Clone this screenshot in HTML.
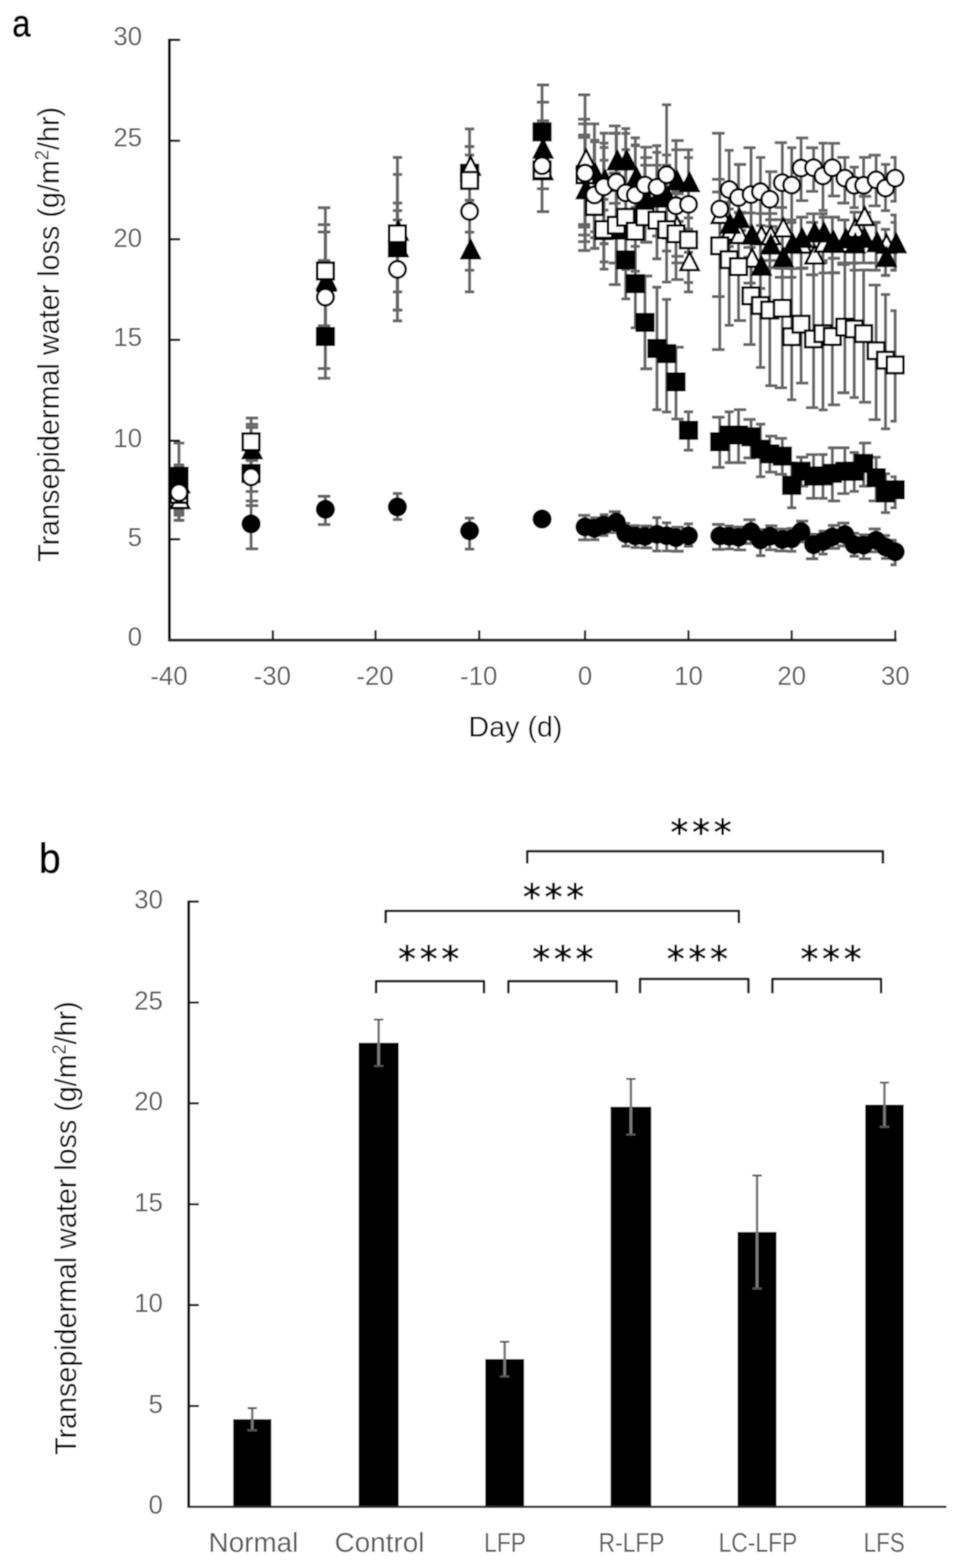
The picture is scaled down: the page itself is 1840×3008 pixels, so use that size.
<!DOCTYPE html>
<html lang="en">
<head>
<meta charset="utf-8">
<title>Transepidermal water loss</title>
<style>
html,body{margin:0;padding:0;background:#fff}
body{width:1840px;height:3008px;overflow:hidden}
svg{display:block}
</style>
</head>
<body>
<svg width="1840" height="3008" viewBox="0 0 1840 3008" role="img" aria-label="Transepidermal water loss figure, panels a and b">
<defs><filter id="soft" x="0" y="0" width="1840" height="3008" filterUnits="userSpaceOnUse"><feGaussianBlur stdDeviation="0.8"/></filter></defs>
<rect width="1840" height="3008" fill="#fff"/>
<g filter="url(#soft)">
<rect width="1840" height="3008" fill="#fff"/>
<g id="panel-a">
<g font-family="'Liberation Sans', sans-serif" font-size="49.5" fill="#5a5a5a" text-anchor="end">
<text x="272.5" y="1238.6">0</text>
<text x="272.5" y="1048">5</text>
<text x="272.5" y="857.6">10</text>
<text x="272.5" y="663.6">15</text>
<text x="272.5" y="474.2">20</text>
<text x="272.5" y="280.6">25</text>
<text x="272.5" y="87.2">30</text>
</g>
<g font-family="'Liberation Sans', sans-serif" font-size="49.5" fill="#5a5a5a" text-anchor="middle">
<text x="324.3" y="1314">-40</text>
<text x="522.5" y="1314">-30</text>
<text x="719.5" y="1314">-20</text>
<text x="918.5" y="1314">-10</text>
<text x="1122.5" y="1314">0</text>
<text x="1321" y="1314">10</text>
<text x="1519" y="1314">20</text>
<text x="1717.8" y="1314">30</text>
</g>
<text transform="translate(113 1078) rotate(-90)" font-family="'Liberation Sans', sans-serif" font-size="57" fill="#000" textLength="873" lengthAdjust="spacingAndGlyphs">Transepidermal water loss (g/m<tspan font-size="36" dy="-20">2</tspan><tspan dy="20">/hr)</tspan></text>
<text x="989" y="1413" font-family="'Liberation Sans', sans-serif" font-size="55" fill="#000" text-anchor="middle">Day (d)</text>
<text x="23.4" y="70.2" font-family="'Liberation Sans', sans-serif" font-size="74" fill="#000" stroke="#000" stroke-width="1.6" textLength="35" lengthAdjust="spacingAndGlyphs">a</text>
<g id="errs" stroke="#686868" stroke-width="5.8" fill="none">
<path d="M343.4 918V982M333 918H353.7M333 982H353.7"/>
<path d="M481.7 960.9V1052.9M471.5 960.9H495.4M471.5 1052.9H495.4"/>
<path d="M624.3 952V1006.4M609.8 952H633.8M609.8 1006.4H633.8"/>
<path d="M762.5 946.6V996.7M753.7 946.6H771.7M753.7 996.7H771.7"/>
<path d="M901 993.9V1053.3M891.8 993.9H910M891.8 1053.3H910"/>
<path d="M1040 987.7V1003.7M1030 987.7H1053.5M1030 1003.7H1053.5"/>
<path d="M1122.5 988.7V1035.7M1109 988.7H1132.5M1109 1035.7H1132.5"/>
<path d="M1140.5 993.4V1035.4M1132.5 993.4H1150M1132.5 1035.4H1150"/>
<path d="M1158.5 987.3V1027.3M1150.5 987.3H1167.5M1150.5 1027.3H1167.5"/>
<path d="M1182.5 981.7V1021.7M1168.1 981.7H1191M1168.1 1021.7H1191"/>
<path d="M1200.5 1003.8V1047.8M1192.3 1003.8H1209.2M1192.3 1047.8H1209.2"/>
<path d="M1219 1008.3V1050.3M1210 1008.3H1227.8M1210 1050.3H1227.8"/>
<path d="M1237.5 1009V1051M1228.5 1009H1251.5M1228.5 1051H1251.5"/>
<path d="M1260.5 993V1057M1251.5 993H1269M1251.5 1057H1269"/>
<path d="M1279 1002.8V1056.8M1270 1002.8H1288M1270 1056.8H1288"/>
<path d="M1297 1011.5V1057.5M1288 1011.5H1312M1288 1057.5H1312"/>
<path d="M1321 1004.8V1047.8M1312 1004.8H1330M1312 1047.8H1330"/>
<path d="M1381 1006V1054M1366 1006H1390.4M1366 1054H1390.4"/>
<path d="M1399 1009V1053M1390.4 1009H1407.8M1390.4 1053H1407.8"/>
<path d="M1417 1010.8V1054.8M1408 1010.8H1431.6M1408 1054.8H1431.6"/>
<path d="M1441 997.2V1042.7M1426.3 997.2H1450M1426.3 1042.7H1450"/>
<path d="M1459 1016V1066M1450.3 1016H1468.5M1450.3 1066H1468.5"/>
<path d="M1477 1008.7V1054.7M1468 1008.7H1491.6M1468 1054.7H1491.6"/>
<path d="M1501 1015V1057M1486.4 1015H1510.1M1486.4 1057H1510.1"/>
<path d="M1519 1013.7V1057.7M1510 1013.7H1528.1M1510 1057.7H1528.1"/>
<path d="M1537 999.7V1039.7M1527.3 999.7H1551M1527.3 1039.7H1551"/>
<path d="M1561 1025V1072M1546.4 1025H1570M1546.4 1072H1570"/>
<path d="M1579 1019V1063M1570.5 1019H1588M1570.5 1063H1588"/>
<path d="M1597 1008V1052M1588.5 1008H1612M1588.5 1052H1612"/>
<path d="M1621 1003.4V1047.4M1606.4 1003.4H1630M1606.4 1047.4H1630"/>
<path d="M1639 1023V1067M1630 1023H1648M1630 1067H1648"/>
<path d="M1657 1026V1072M1648 1026H1671.6M1648 1072H1671.6"/>
<path d="M1681 1014.6V1058.6M1666.4 1014.6H1690M1666.4 1058.6H1690"/>
<path d="M1699 1027.3V1071.3M1690 1027.3H1708M1690 1071.3H1708"/>
<path d="M1717.5 1036.5V1083.5M1708.5 1036.5H1720.5M1708.5 1083.5H1720.5"/>
<path d="M343.4 849.8V977.8M333 849.8H353.7M333 977.8H353.7"/>
<path d="M481.7 878.3V942.8M471.5 878.3H495.4M471.5 942.8H495.4"/>
<path d="M624.3 499.6V725.6M609.8 499.6H633.8M609.8 725.6H633.8"/>
<path d="M762.5 404V595M753.7 404H771.7M753.7 595H771.7"/>
<path d="M901 247.3V445.3M891.8 247.3H910M891.8 445.3H910"/>
<path d="M1040 163V406M1030 163H1053.5M1030 406H1053.5"/>
<path d="M1122.5 259V430.7M1109 259H1132.5M1109 430.7H1132.5"/>
<path d="M1140.5 336V456M1132.5 336H1150M1132.5 456H1150"/>
<path d="M1158.5 382.5V502.5M1150.5 382.5H1167.5M1150.5 502.5H1167.5"/>
<path d="M1182.5 341.5V546.2M1168.1 341.5H1191M1168.1 546.2H1191"/>
<path d="M1200.5 424V573.4M1192.3 424H1209.2M1192.3 573.4H1209.2"/>
<path d="M1219 459.4V628.8M1210 459.4H1227.8M1210 628.8H1227.8"/>
<path d="M1237.5 529.5V707.5M1228.5 529.5H1251.5M1228.5 707.5H1251.5"/>
<path d="M1260.5 551V786M1251.5 551H1269M1251.5 786H1269"/>
<path d="M1279 574.3V790.3M1270 574.3H1288M1270 790.3H1288"/>
<path d="M1297 666.2V803.8M1288 666.2H1312M1288 803.8H1312"/>
<path d="M1321 790V863.6M1312 790H1330M1312 863.6H1330"/>
<path d="M1381 800.4V896.6M1366 800.4H1390.4M1366 896.6H1390.4"/>
<path d="M1399 790V887.5M1390.4 790H1407.8M1390.4 887.5H1407.8"/>
<path d="M1417 785.8V887.5M1408 785.8H1431.6M1408 887.5H1431.6"/>
<path d="M1441 804.6V878.5M1426.3 804.6H1450M1426.3 878.5H1450"/>
<path d="M1459 813.7V914.7M1450.3 813.7H1468.5M1450.3 914.7H1468.5"/>
<path d="M1477 836.6V905.6M1468 836.6H1491.6M1468 905.6H1491.6"/>
<path d="M1501 840.8V909.8M1486.4 840.8H1510.1M1486.4 909.8H1510.1"/>
<path d="M1519 888V974.2M1510 888H1528.1M1510 974.2H1528.1"/>
<path d="M1537 877V932.7M1527.3 877H1551M1527.3 932.7H1551"/>
<path d="M1561 872.2V955.9M1546.4 872.2H1570M1546.4 955.9H1570"/>
<path d="M1579 872V956M1570.5 872H1588M1570.5 956H1588"/>
<path d="M1597 859V961M1588.5 859H1612M1588.5 961H1612"/>
<path d="M1621 859V946.8M1606.4 859H1630M1606.4 946.8H1630"/>
<path d="M1639 868V942.7M1630 868H1648M1630 942.7H1648"/>
<path d="M1657 849.8V932.7M1648 849.8H1671.6M1648 932.7H1671.6"/>
<path d="M1681 877.1V960.9M1666.4 877.1H1690M1666.4 960.9H1690"/>
<path d="M1699 908.8V983.3M1690 908.8H1708M1690 983.3H1708"/>
<path d="M1717.5 914.6V974.2M1708.5 914.6H1720.5M1708.5 974.2H1720.5"/>
<path d="M343.4 926V998.3M333 926H353.7M333 998.3H353.7"/>
<path d="M481.7 820V900M471.5 820H495.4M471.5 900H495.4"/>
<path d="M624.3 444.8V625M609.8 444.8H633.8M609.8 625H633.8"/>
<path d="M762.5 302V560M753.7 302H771.7M753.7 560H771.7"/>
<path d="M901 281.4V384.4M891.8 281.4H910M891.8 384.4H910"/>
<path d="M1040 265V406M1030 265H1053.5M1030 406H1053.5"/>
<path d="M1122.5 181.8V450.8M1109 181.8H1132.5M1109 450.8H1132.5"/>
<path d="M1140.5 272V392M1132.5 272H1150M1132.5 392H1150"/>
<path d="M1158.5 283V403M1150.5 283H1167.5M1150.5 403H1167.5"/>
<path d="M1182.5 256V366M1168.1 256H1191M1168.1 366H1191"/>
<path d="M1200.5 256V366M1192.3 256H1209.2M1192.3 366H1209.2"/>
<path d="M1219 278V398M1210 278H1227.8M1210 398H1227.8"/>
<path d="M1237.5 317V427M1228.5 317H1251.5M1228.5 427H1251.5"/>
<path d="M1260.5 317V437M1251.5 317H1269M1251.5 437H1269"/>
<path d="M1279 317V437M1270 317H1288M1270 437H1288"/>
<path d="M1297 371.6V491.6M1288 371.6H1312M1288 491.6H1312"/>
<path d="M1321 439.4V560M1312 439.4H1330M1312 560H1330"/>
<path d="M1381 368.4V569M1366 368.4H1390.4M1366 569H1390.4"/>
<path d="M1399 401V491M1390.4 401H1407.8M1390.4 491H1407.8"/>
<path d="M1417 407.5V497.5M1408 407.5H1431.6M1408 497.5H1431.6"/>
<path d="M1441 453V543M1426.3 453H1450M1426.3 543H1450"/>
<path d="M1459 409.7V499.7M1450.3 409.7H1468.5M1450.3 499.7H1468.5"/>
<path d="M1477 409.7V499.7M1468 409.7H1491.6M1468 499.7H1491.6"/>
<path d="M1501 397.8V514.8M1486.4 397.8H1510.1M1486.4 514.8H1510.1"/>
<path d="M1519 421.9V515.4M1510 421.9H1528.1M1510 515.4H1528.1"/>
<path d="M1537 416.6V515M1527.3 416.6H1551M1527.3 515H1551"/>
<path d="M1561 426.7V527.3M1546.4 426.7H1570M1546.4 527.3H1570"/>
<path d="M1579 416.6V523.7M1570.5 416.6H1588M1570.5 523.7H1588"/>
<path d="M1597 416.6V495.5M1588.5 416.6H1612M1588.5 495.5H1612"/>
<path d="M1621 421.9V507.3M1606.4 421.9H1630M1606.4 507.3H1630"/>
<path d="M1639 407.2V504.3M1630 407.2H1648M1630 504.3H1648"/>
<path d="M1657 376.6V463M1648 376.6H1671.6M1648 463H1671.6"/>
<path d="M1681 426.6V518.4M1666.4 426.6H1690M1666.4 518.4H1690"/>
<path d="M1699 440.1V528.4M1690 440.1H1708M1690 528.4H1708"/>
<path d="M1717.5 412.5V518.4M1708.5 412.5H1720.5M1708.5 518.4H1720.5"/>
<path d="M343.4 896V984M333 896H353.7M333 984H353.7"/>
<path d="M481.7 801.8V918M471.5 801.8H495.4M471.5 918H495.4"/>
<path d="M624.3 431V647M609.8 431H633.8M609.8 647H633.8"/>
<path d="M762.5 389.5V615.5M753.7 389.5H771.7M753.7 615.5H771.7"/>
<path d="M901 396.8V559.8M891.8 396.8H910M891.8 559.8H910"/>
<path d="M1040 196V406M1030 196H1053.5M1030 406H1053.5"/>
<path d="M1122.5 263.5V480.5M1109 263.5H1132.5M1109 480.5H1132.5"/>
<path d="M1140.5 269.5V444.7M1132.5 269.5H1150M1132.5 444.7H1150"/>
<path d="M1158.5 274.5V467.6M1150.5 274.5H1167.5M1150.5 467.6H1167.5"/>
<path d="M1182.5 241.6V390M1168.1 241.6H1191M1168.1 390H1191"/>
<path d="M1200.5 246.6V366M1192.3 246.6H1209.2M1192.3 366H1209.2"/>
<path d="M1219 264.5V418M1210 264.5H1227.8M1210 418H1227.8"/>
<path d="M1237.5 302.4V464.6M1228.5 302.4H1251.5M1228.5 464.6H1251.5"/>
<path d="M1260.5 292.4V452.7M1251.5 292.4H1269M1251.5 452.7H1269"/>
<path d="M1279 297.4V457M1270 297.4H1288M1270 457H1288"/>
<path d="M1297 269.6V424.6M1288 269.6H1312M1288 424.6H1312"/>
<path d="M1321 287.4V418M1312 287.4H1330M1312 418H1330"/>
<path d="M1399 388V473M1390.4 388H1407.8M1390.4 473H1407.8"/>
<path d="M1417 376.9V461.9M1408 376.9H1431.6M1408 461.9H1431.6"/>
<path d="M1441 408.5V493.5M1426.3 408.5H1450M1426.3 493.5H1450"/>
<path d="M1459 468.3V553.3M1450.3 468.3H1468.5M1450.3 553.3H1468.5"/>
<path d="M1477 421.5V513.5M1468 421.5H1491.6M1468 513.5H1491.6"/>
<path d="M1501 421.4V532M1486.4 421.4H1510.1M1486.4 532H1510.1"/>
<path d="M1519 421.9V532M1510 421.9H1528.1M1510 532H1528.1"/>
<path d="M1537 416.6V515M1527.3 416.6H1551M1527.3 515H1551"/>
<path d="M1561 410.1V504.2M1546.4 410.1H1570M1546.4 504.2H1570"/>
<path d="M1579 410.1V504.2M1570.5 410.1H1588M1570.5 504.2H1588"/>
<path d="M1597 416.6V523.7M1588.5 416.6H1612M1588.5 523.7H1612"/>
<path d="M1621 421.9V504.3M1606.4 421.9H1630M1606.4 504.3H1630"/>
<path d="M1639 407.2V518.4M1630 407.2H1648M1630 518.4H1648"/>
<path d="M1657 414.8V504.3M1648 414.8H1671.6M1648 504.3H1671.6"/>
<path d="M1681 426.6V504.3M1666.4 426.6H1690M1666.4 504.3H1690"/>
<path d="M1699 440.1V528.4M1690 440.1H1708M1690 528.4H1708"/>
<path d="M1717.5 426.6V518.4M1708.5 426.6H1720.5M1708.5 518.4H1720.5"/>
<path d="M343.4 918.4V988.4M333 918.4H353.7M333 988.4H353.7"/>
<path d="M481.7 813.8V883.4M471.5 813.8H495.4M471.5 883.4H495.4"/>
<path d="M624.3 398.5V640.9M609.8 398.5H633.8M609.8 640.9H633.8"/>
<path d="M762.5 334.6V594.6M753.7 334.6H771.7M753.7 594.6H771.7"/>
<path d="M901 281V384M891.8 281H910M891.8 384H910"/>
<path d="M1040 266.2V406.2M1030 266.2H1053.5M1030 406.2H1053.5"/>
<path d="M1122.5 237.6V463.6M1109 237.6H1132.5M1109 463.6H1132.5"/>
<path d="M1140.5 269.5V476.5M1132.5 269.5H1150M1132.5 476.5H1150"/>
<path d="M1158.5 307.4V516.4M1150.5 307.4H1167.5M1150.5 516.4H1167.5"/>
<path d="M1182.5 332V546.2M1168.1 332H1191M1168.1 546.2H1191"/>
<path d="M1200.5 316.8V516.8M1192.3 316.8H1209.2M1192.3 516.8H1209.2"/>
<path d="M1219 363.5V520.3M1210 363.5H1227.8M1210 520.3H1227.8"/>
<path d="M1237.5 356V464.6M1228.5 356H1251.5M1228.5 464.6H1251.5"/>
<path d="M1260.5 352.5V496.5M1251.5 352.5H1269M1251.5 496.5H1269"/>
<path d="M1279 350.5V541.2M1270 350.5H1288M1270 541.2H1288"/>
<path d="M1297 368.5V536.3M1288 368.5H1312M1288 536.3H1312"/>
<path d="M1321 380V542M1312 380H1330M1312 542H1330"/>
<path d="M1381 255.6V670.6M1366 255.6H1390.4M1366 670.6H1390.4"/>
<path d="M1399 372.2V624.2M1390.4 372.2H1407.8M1390.4 624.2H1407.8"/>
<path d="M1417 408.5V615M1408 408.5H1431.6M1408 615H1431.6"/>
<path d="M1441 474.6V661M1426.3 474.6H1450M1426.3 661H1450"/>
<path d="M1459 468V704.8M1450.3 468H1468.5M1450.3 704.8H1468.5"/>
<path d="M1477 449.8V739.8M1468 449.8H1491.6M1468 739.8H1491.6"/>
<path d="M1501 439.3V743.9M1486.4 439.3H1510.1M1486.4 743.9H1510.1"/>
<path d="M1519 531.9V766.9M1510 531.9H1528.1M1510 766.9H1528.1"/>
<path d="M1537 513.9V734.9M1527.3 513.9H1551M1527.3 734.9H1551"/>
<path d="M1561 527.1V782.1M1546.4 527.1H1570M1546.4 782.1H1570"/>
<path d="M1579 500V786.4M1570.5 500H1588M1570.5 786.4H1588"/>
<path d="M1597 523V776.6M1588.5 523H1612M1588.5 776.6H1612"/>
<path d="M1621 507V753.5M1606.4 507H1630M1606.4 753.5H1630"/>
<path d="M1639 505V762.7M1630 505H1648M1630 762.7H1648"/>
<path d="M1657 518V771.7M1648 518H1671.6M1648 771.7H1671.6"/>
<path d="M1681 546.8V805.2M1666.4 546.8H1690M1666.4 805.2H1690"/>
<path d="M1699 564.9V822.6M1690 564.9H1708M1690 822.6H1708"/>
<path d="M1717.5 596.2V808M1708.5 596.2H1720.5M1708.5 808H1720.5"/>
<path d="M343.4 892V998M333 892H353.7M333 998H353.7"/>
<path d="M481.7 859.7V970M471.5 859.7H495.4M471.5 970H495.4"/>
<path d="M624.3 445V707M609.8 445H633.8M609.8 707H633.8"/>
<path d="M762.5 421.8V594.8M753.7 421.8H771.7M753.7 594.8H771.7"/>
<path d="M901 297.4V518.4M891.8 297.4H910M891.8 518.4H910"/>
<path d="M1040 231.7V362.1M1030 231.7H1053.5M1030 362.1H1053.5"/>
<path d="M1122.5 228.7V435.7M1109 228.7H1132.5M1109 435.7H1132.5"/>
<path d="M1140.5 237.6V476.5M1132.5 237.6H1150M1132.5 476.5H1150"/>
<path d="M1158.5 255.5V467.5M1150.5 255.5H1167.5M1150.5 467.5H1167.5"/>
<path d="M1182.5 255.5V504.5M1168.1 255.5H1191M1168.1 504.5H1191"/>
<path d="M1200.5 287V455M1192.3 287H1209.2M1192.3 455H1209.2"/>
<path d="M1219 279.5V472.6M1210 279.5H1227.8M1210 472.6H1227.8"/>
<path d="M1237.5 282.4V430M1228.5 282.4H1251.5M1228.5 430H1251.5"/>
<path d="M1260.5 279.5V452.7M1251.5 279.5H1269M1251.5 452.7H1269"/>
<path d="M1279 200.8V481.5M1270 200.8H1288M1270 481.5H1288"/>
<path d="M1297 287.4V504.4M1288 287.4H1312M1288 504.4H1312"/>
<path d="M1321 302.3V484M1312 302.3H1330M1312 484H1330"/>
<path d="M1381 344V458M1366 344H1390.4M1366 458H1390.4"/>
<path d="M1399 288.3V438.5M1390.4 288.3H1407.8M1390.4 438.5H1407.8"/>
<path d="M1417 315.5V441.9M1408 315.5H1431.6M1408 441.9H1431.6"/>
<path d="M1441 283.4V462.3M1426.3 283.4H1450M1426.3 462.3H1450"/>
<path d="M1459 302.2V432.7M1450.3 302.2H1468.5M1450.3 432.7H1468.5"/>
<path d="M1477 329.4V434.3M1468 329.4H1491.6M1468 434.3H1491.6"/>
<path d="M1501 273.7V398M1486.4 273.7H1510.1M1486.4 398H1510.1"/>
<path d="M1519 283.4V427M1510 283.4H1528.1M1510 427H1528.1"/>
<path d="M1537 264.6V384.8M1527.3 264.6H1551M1527.3 384.8H1551"/>
<path d="M1561 283.5V367.1M1546.4 283.5H1570M1546.4 367.1H1570"/>
<path d="M1579 274.7V403.6M1570.5 274.7H1588M1570.5 403.6H1588"/>
<path d="M1597 274.8V376M1588.5 274.8H1612M1588.5 376H1612"/>
<path d="M1621 301.8V389.5M1606.4 301.8H1630M1606.4 389.5H1630"/>
<path d="M1639 320.6V398.3M1630 320.6H1648M1630 398.3H1648"/>
<path d="M1657 301.8V407.4M1648 301.8H1671.6M1648 407.4H1671.6"/>
<path d="M1681 297.7V394.8M1666.4 297.7H1690M1666.4 394.8H1690"/>
<path d="M1699 315.3V404.2M1690 315.3H1708M1690 404.2H1708"/>
<path d="M1717.5 301.8V386M1708.5 301.8H1720.5M1708.5 386H1720.5"/>
</g>
<g id="marks">
<circle cx="343.4" cy="948" r="18.4" fill="#000"/>
<circle cx="481.7" cy="1004.9" r="18.4" fill="#000"/>
<circle cx="624.3" cy="977" r="18.4" fill="#000"/>
<circle cx="762.5" cy="972.4" r="18.4" fill="#000"/>
<circle cx="901" cy="1018.3" r="18.4" fill="#000"/>
<circle cx="1040" cy="995.7" r="18.4" fill="#000"/>
<circle cx="1122.5" cy="1010.7" r="18.4" fill="#000"/>
<circle cx="1140.5" cy="1013.4" r="18.4" fill="#000"/>
<circle cx="1158.5" cy="1007.3" r="18.4" fill="#000"/>
<circle cx="1182.5" cy="1001.7" r="18.4" fill="#000"/>
<circle cx="1200.5" cy="1023.8" r="18.4" fill="#000"/>
<circle cx="1219" cy="1028.3" r="18.4" fill="#000"/>
<circle cx="1237.5" cy="1029" r="18.4" fill="#000"/>
<circle cx="1260.5" cy="1025" r="18.4" fill="#000"/>
<circle cx="1279" cy="1027.8" r="18.4" fill="#000"/>
<circle cx="1297" cy="1031.5" r="18.4" fill="#000"/>
<circle cx="1321" cy="1027.8" r="18.4" fill="#000"/>
<circle cx="1381" cy="1028" r="18.4" fill="#000"/>
<circle cx="1399" cy="1029" r="18.4" fill="#000"/>
<circle cx="1417" cy="1030.8" r="18.4" fill="#000"/>
<circle cx="1441" cy="1019.7" r="18.4" fill="#000"/>
<circle cx="1459" cy="1036" r="18.4" fill="#000"/>
<circle cx="1477" cy="1028.7" r="18.4" fill="#000"/>
<circle cx="1501" cy="1035" r="18.4" fill="#000"/>
<circle cx="1519" cy="1033.7" r="18.4" fill="#000"/>
<circle cx="1537" cy="1019.7" r="18.4" fill="#000"/>
<circle cx="1561" cy="1045" r="18.4" fill="#000"/>
<circle cx="1579" cy="1039" r="18.4" fill="#000"/>
<circle cx="1597" cy="1030" r="18.4" fill="#000"/>
<circle cx="1621" cy="1025.4" r="18.4" fill="#000"/>
<circle cx="1639" cy="1045" r="18.4" fill="#000"/>
<circle cx="1657" cy="1046" r="18.4" fill="#000"/>
<circle cx="1681" cy="1036.6" r="18.4" fill="#000"/>
<circle cx="1699" cy="1049.3" r="18.4" fill="#000"/>
<circle cx="1717.5" cy="1058.5" r="18.4" fill="#000"/>
<rect x="325" y="895.4" width="36.8" height="36.8" fill="#000"/>
<rect x="463.3" y="889.9" width="36.8" height="36.8" fill="#000"/>
<rect x="605.9" y="627.2" width="36.8" height="36.8" fill="#000"/>
<rect x="744.1" y="456.6" width="36.8" height="36.8" fill="#000"/>
<rect x="882.6" y="313.9" width="36.8" height="36.8" fill="#000"/>
<rect x="1021.6" y="234.6" width="36.8" height="36.8" fill="#000"/>
<rect x="1104.1" y="316.6" width="36.8" height="36.8" fill="#000"/>
<rect x="1122.1" y="377.6" width="36.8" height="36.8" fill="#000"/>
<rect x="1140.1" y="424.1" width="36.8" height="36.8" fill="#000"/>
<rect x="1164.1" y="423.1" width="36.8" height="36.8" fill="#000"/>
<rect x="1182.1" y="480.3" width="36.8" height="36.8" fill="#000"/>
<rect x="1200.6" y="525.7" width="36.8" height="36.8" fill="#000"/>
<rect x="1219.1" y="600.1" width="36.8" height="36.8" fill="#000"/>
<rect x="1242.1" y="650.1" width="36.8" height="36.8" fill="#000"/>
<rect x="1260.6" y="659.9" width="36.8" height="36.8" fill="#000"/>
<rect x="1278.6" y="714.2" width="36.8" height="36.8" fill="#000"/>
<rect x="1302.6" y="807" width="36.8" height="36.8" fill="#000"/>
<rect x="1362.6" y="829" width="36.8" height="36.8" fill="#000"/>
<rect x="1380.6" y="816.2" width="36.8" height="36.8" fill="#000"/>
<rect x="1398.6" y="816.2" width="36.8" height="36.8" fill="#000"/>
<rect x="1422.6" y="819.6" width="36.8" height="36.8" fill="#000"/>
<rect x="1440.6" y="843.4" width="36.8" height="36.8" fill="#000"/>
<rect x="1458.6" y="852.4" width="36.8" height="36.8" fill="#000"/>
<rect x="1482.6" y="856.6" width="36.8" height="36.8" fill="#000"/>
<rect x="1500.6" y="912.6" width="36.8" height="36.8" fill="#000"/>
<rect x="1518.6" y="885.6" width="36.8" height="36.8" fill="#000"/>
<rect x="1542.6" y="894.8" width="36.8" height="36.8" fill="#000"/>
<rect x="1560.6" y="894.6" width="36.8" height="36.8" fill="#000"/>
<rect x="1578.6" y="889.6" width="36.8" height="36.8" fill="#000"/>
<rect x="1602.6" y="885.6" width="36.8" height="36.8" fill="#000"/>
<rect x="1620.6" y="885.6" width="36.8" height="36.8" fill="#000"/>
<rect x="1638.6" y="870.6" width="36.8" height="36.8" fill="#000"/>
<rect x="1662.6" y="898" width="36.8" height="36.8" fill="#000"/>
<rect x="1680.6" y="927.4" width="36.8" height="36.8" fill="#000"/>
<rect x="1699.1" y="921.2" width="36.8" height="36.8" fill="#000"/>
<path d="M345.4 940.4L362.8 974.8H328Z" fill="#fff" stroke="#000" stroke-width="4.9" stroke-linejoin="miter"/>
<path d="M483.7 844.4L501.1 878.8H466.3Z" fill="#fff" stroke="#000" stroke-width="4.9" stroke-linejoin="miter"/>
<path d="M626.3 519.4L643.7 553.8H608.9Z" fill="#fff" stroke="#000" stroke-width="4.9" stroke-linejoin="miter"/>
<path d="M764.5 425.4L781.9 459.8H747.1Z" fill="#fff" stroke="#000" stroke-width="4.9" stroke-linejoin="miter"/>
<path d="M903 300.8L920.4 335.1H885.6Z" fill="#fff" stroke="#000" stroke-width="4.9" stroke-linejoin="miter"/>
<path d="M1042 309.4L1059.4 343.8H1024.6Z" fill="#fff" stroke="#000" stroke-width="4.9" stroke-linejoin="miter"/>
<path d="M1124.5 287.2L1141.9 321.6H1107.1Z" fill="#fff" stroke="#000" stroke-width="4.9" stroke-linejoin="miter"/>
<path d="M1142.5 316.4L1159.9 350.8H1125.1Z" fill="#fff" stroke="#000" stroke-width="4.9" stroke-linejoin="miter"/>
<path d="M1160.5 327.4L1177.9 361.8H1143.1Z" fill="#fff" stroke="#000" stroke-width="4.9" stroke-linejoin="miter"/>
<path d="M1184.5 290.4L1201.9 324.8H1167.1Z" fill="#fff" stroke="#000" stroke-width="4.9" stroke-linejoin="miter"/>
<path d="M1202.5 290.4L1219.9 324.8H1185.1Z" fill="#fff" stroke="#000" stroke-width="4.9" stroke-linejoin="miter"/>
<path d="M1221 322.4L1238.4 356.8H1203.6Z" fill="#fff" stroke="#000" stroke-width="4.9" stroke-linejoin="miter"/>
<path d="M1239.5 361.4L1256.9 395.8H1222.1Z" fill="#fff" stroke="#000" stroke-width="4.9" stroke-linejoin="miter"/>
<path d="M1262.5 361.4L1279.9 395.8H1245.1Z" fill="#fff" stroke="#000" stroke-width="4.9" stroke-linejoin="miter"/>
<path d="M1281 361.4L1298.4 395.8H1263.6Z" fill="#fff" stroke="#000" stroke-width="4.9" stroke-linejoin="miter"/>
<path d="M1299 416L1316.4 450.4H1281.6Z" fill="#fff" stroke="#000" stroke-width="4.9" stroke-linejoin="miter"/>
<path d="M1323 483.8L1340.4 518.1H1305.6Z" fill="#fff" stroke="#000" stroke-width="4.9" stroke-linejoin="miter"/>
<path d="M1383 393.4L1400.4 427.8H1365.6Z" fill="#fff" stroke="#000" stroke-width="4.9" stroke-linejoin="miter"/>
<path d="M1401 425.4L1418.4 459.8H1383.6Z" fill="#fff" stroke="#000" stroke-width="4.9" stroke-linejoin="miter"/>
<path d="M1419 431.9L1436.4 466.2H1401.6Z" fill="#fff" stroke="#000" stroke-width="4.9" stroke-linejoin="miter"/>
<path d="M1443 477.4L1460.4 511.8H1425.6Z" fill="#fff" stroke="#000" stroke-width="4.9" stroke-linejoin="miter"/>
<path d="M1461 434.1L1478.4 468.4H1443.6Z" fill="#fff" stroke="#000" stroke-width="4.9" stroke-linejoin="miter"/>
<path d="M1479 434.1L1496.4 468.4H1461.6Z" fill="#fff" stroke="#000" stroke-width="4.9" stroke-linejoin="miter"/>
<path d="M1503 419.2L1520.4 453.6H1485.6Z" fill="#fff" stroke="#000" stroke-width="4.9" stroke-linejoin="miter"/>
<path d="M1521 449.8L1538.4 484.1H1503.6Z" fill="#fff" stroke="#000" stroke-width="4.9" stroke-linejoin="miter"/>
<path d="M1539 450.4L1556.4 484.8H1521.6Z" fill="#fff" stroke="#000" stroke-width="4.9" stroke-linejoin="miter"/>
<path d="M1563 471.1L1580.4 505.4H1545.6Z" fill="#fff" stroke="#000" stroke-width="4.9" stroke-linejoin="miter"/>
<path d="M1581 448.4L1598.4 482.8H1563.6Z" fill="#fff" stroke="#000" stroke-width="4.9" stroke-linejoin="miter"/>
<path d="M1599 448.4L1616.4 482.8H1581.6Z" fill="#fff" stroke="#000" stroke-width="4.9" stroke-linejoin="miter"/>
<path d="M1623 448.4L1640.4 482.8H1605.6Z" fill="#fff" stroke="#000" stroke-width="4.9" stroke-linejoin="miter"/>
<path d="M1641 420.4L1658.4 454.8H1623.6Z" fill="#fff" stroke="#000" stroke-width="4.9" stroke-linejoin="miter"/>
<path d="M1659 397.4L1676.4 431.8H1641.6Z" fill="#fff" stroke="#000" stroke-width="4.9" stroke-linejoin="miter"/>
<path d="M1683 447.4L1700.4 481.8H1665.6Z" fill="#fff" stroke="#000" stroke-width="4.9" stroke-linejoin="miter"/>
<path d="M1701 450.4L1718.4 484.8H1683.6Z" fill="#fff" stroke="#000" stroke-width="4.9" stroke-linejoin="miter"/>
<path d="M1719.5 449.4L1736.9 483.8H1702.1Z" fill="#fff" stroke="#000" stroke-width="4.9" stroke-linejoin="miter"/>
<path d="M345.4 905L366.6 947H324.2Z" fill="#000"/>
<path d="M483.7 839L504.9 881H462.5Z" fill="#000"/>
<path d="M626.3 518L647.5 560H605.1Z" fill="#000"/>
<path d="M764.5 452L785.7 494H743.3Z" fill="#000"/>
<path d="M903 455.8L924.2 497.8H881.8Z" fill="#000"/>
<path d="M1042 262.5L1063.2 304.5H1020.8Z" fill="#000"/>
<path d="M1124.5 340.5L1145.7 382.5H1103.3Z" fill="#000"/>
<path d="M1142.5 311L1163.7 353H1121.3Z" fill="#000"/>
<path d="M1160.5 322L1181.7 364H1139.3Z" fill="#000"/>
<path d="M1184.5 285L1205.7 327H1163.3Z" fill="#000"/>
<path d="M1202.5 285L1223.7 327H1181.3Z" fill="#000"/>
<path d="M1221 317L1242.2 359H1199.8Z" fill="#000"/>
<path d="M1239.5 356L1260.7 398H1218.3Z" fill="#000"/>
<path d="M1262.5 356L1283.7 398H1241.3Z" fill="#000"/>
<path d="M1281 356L1302.2 398H1259.8Z" fill="#000"/>
<path d="M1299 323.6L1320.2 365.6H1277.8Z" fill="#000"/>
<path d="M1323 327L1344.2 369H1301.8Z" fill="#000"/>
<path d="M1401 407L1422.2 449H1379.8Z" fill="#000"/>
<path d="M1419 395.9L1440.2 437.9H1397.8Z" fill="#000"/>
<path d="M1443 427.5L1464.2 469.5H1421.8Z" fill="#000"/>
<path d="M1461 487.3L1482.2 529.3H1439.8Z" fill="#000"/>
<path d="M1479 446.5L1500.2 488.5H1457.8Z" fill="#000"/>
<path d="M1503 470.4L1524.2 512.4H1481.8Z" fill="#000"/>
<path d="M1521 444.4L1542.2 486.4H1499.8Z" fill="#000"/>
<path d="M1539 433.8L1560.2 475.8H1517.8Z" fill="#000"/>
<path d="M1563 423.2L1584.2 465.2H1541.8Z" fill="#000"/>
<path d="M1581 423.2L1602.2 465.2H1559.8Z" fill="#000"/>
<path d="M1599 438.6L1620.2 480.6H1577.8Z" fill="#000"/>
<path d="M1623 435L1644.2 477H1601.8Z" fill="#000"/>
<path d="M1641 444.4L1662.2 486.4H1619.8Z" fill="#000"/>
<path d="M1659 433.8L1680.2 475.8H1637.8Z" fill="#000"/>
<path d="M1683 442L1704.2 484H1661.8Z" fill="#000"/>
<path d="M1701 470.4L1722.2 512.4H1679.8Z" fill="#000"/>
<path d="M1719.5 444L1740.7 486H1698.3Z" fill="#000"/>
<rect x="327.4" y="932.5" width="31.9" height="31.9" fill="#fff" stroke="#000" stroke-width="4.9"/>
<rect x="465.8" y="831.7" width="31.9" height="31.9" fill="#fff" stroke="#000" stroke-width="4.9"/>
<rect x="608.4" y="503.9" width="31.9" height="31.9" fill="#fff" stroke="#000" stroke-width="4.9"/>
<rect x="746.6" y="432.7" width="31.9" height="31.9" fill="#fff" stroke="#000" stroke-width="4.9"/>
<rect x="885.1" y="330.1" width="31.9" height="31.9" fill="#fff" stroke="#000" stroke-width="4.9"/>
<rect x="1024" y="310.2" width="31.9" height="31.9" fill="#fff" stroke="#000" stroke-width="4.9"/>
<rect x="1106.5" y="319.4" width="31.9" height="31.9" fill="#fff" stroke="#000" stroke-width="4.9"/>
<rect x="1124.5" y="380.1" width="31.9" height="31.9" fill="#fff" stroke="#000" stroke-width="4.9"/>
<rect x="1142.5" y="424.4" width="31.9" height="31.9" fill="#fff" stroke="#000" stroke-width="4.9"/>
<rect x="1166.5" y="416.1" width="31.9" height="31.9" fill="#fff" stroke="#000" stroke-width="4.9"/>
<rect x="1184.5" y="400.9" width="31.9" height="31.9" fill="#fff" stroke="#000" stroke-width="4.9"/>
<rect x="1203" y="427.6" width="31.9" height="31.9" fill="#fff" stroke="#000" stroke-width="4.9"/>
<rect x="1221.5" y="400.1" width="31.9" height="31.9" fill="#fff" stroke="#000" stroke-width="4.9"/>
<rect x="1244.5" y="406.6" width="31.9" height="31.9" fill="#fff" stroke="#000" stroke-width="4.9"/>
<rect x="1263" y="424.6" width="31.9" height="31.9" fill="#fff" stroke="#000" stroke-width="4.9"/>
<rect x="1281" y="432.6" width="31.9" height="31.9" fill="#fff" stroke="#000" stroke-width="4.9"/>
<rect x="1305" y="444.1" width="31.9" height="31.9" fill="#fff" stroke="#000" stroke-width="4.9"/>
<rect x="1365" y="455.7" width="31.9" height="31.9" fill="#fff" stroke="#000" stroke-width="4.9"/>
<rect x="1383" y="482.2" width="31.9" height="31.9" fill="#fff" stroke="#000" stroke-width="4.9"/>
<rect x="1401" y="495.6" width="31.9" height="31.9" fill="#fff" stroke="#000" stroke-width="4.9"/>
<rect x="1425" y="551.7" width="31.9" height="31.9" fill="#fff" stroke="#000" stroke-width="4.9"/>
<rect x="1443" y="570.1" width="31.9" height="31.9" fill="#fff" stroke="#000" stroke-width="4.9"/>
<rect x="1461" y="578.9" width="31.9" height="31.9" fill="#fff" stroke="#000" stroke-width="4.9"/>
<rect x="1485" y="575.4" width="31.9" height="31.9" fill="#fff" stroke="#000" stroke-width="4.9"/>
<rect x="1503" y="630" width="31.9" height="31.9" fill="#fff" stroke="#000" stroke-width="4.9"/>
<rect x="1521" y="606" width="31.9" height="31.9" fill="#fff" stroke="#000" stroke-width="4.9"/>
<rect x="1545" y="634.2" width="31.9" height="31.9" fill="#fff" stroke="#000" stroke-width="4.9"/>
<rect x="1563" y="624.1" width="31.9" height="31.9" fill="#fff" stroke="#000" stroke-width="4.9"/>
<rect x="1581" y="629.7" width="31.9" height="31.9" fill="#fff" stroke="#000" stroke-width="4.9"/>
<rect x="1605" y="611.6" width="31.9" height="31.9" fill="#fff" stroke="#000" stroke-width="4.9"/>
<rect x="1623" y="615.1" width="31.9" height="31.9" fill="#fff" stroke="#000" stroke-width="4.9"/>
<rect x="1641" y="624.1" width="31.9" height="31.9" fill="#fff" stroke="#000" stroke-width="4.9"/>
<rect x="1665" y="656.9" width="31.9" height="31.9" fill="#fff" stroke="#000" stroke-width="4.9"/>
<rect x="1683" y="675" width="31.9" height="31.9" fill="#fff" stroke="#000" stroke-width="4.9"/>
<rect x="1701.5" y="684.1" width="31.9" height="31.9" fill="#fff" stroke="#000" stroke-width="4.9"/>
<circle cx="343.4" cy="945" r="15.9" fill="#fff" stroke="#000" stroke-width="4.9"/>
<circle cx="481.7" cy="914.7" r="15.9" fill="#fff" stroke="#000" stroke-width="4.9"/>
<circle cx="624.3" cy="570" r="15.9" fill="#fff" stroke="#000" stroke-width="4.9"/>
<circle cx="762.5" cy="516.8" r="15.9" fill="#fff" stroke="#000" stroke-width="4.9"/>
<circle cx="901" cy="405.4" r="15.9" fill="#fff" stroke="#000" stroke-width="4.9"/>
<circle cx="1040" cy="317.7" r="15.9" fill="#fff" stroke="#000" stroke-width="4.9"/>
<circle cx="1122.5" cy="332.2" r="15.9" fill="#fff" stroke="#000" stroke-width="4.9"/>
<circle cx="1140.5" cy="374" r="15.9" fill="#fff" stroke="#000" stroke-width="4.9"/>
<circle cx="1158.5" cy="358.5" r="15.9" fill="#fff" stroke="#000" stroke-width="4.9"/>
<circle cx="1182.5" cy="349.5" r="15.9" fill="#fff" stroke="#000" stroke-width="4.9"/>
<circle cx="1200.5" cy="370" r="15.9" fill="#fff" stroke="#000" stroke-width="4.9"/>
<circle cx="1219" cy="374" r="15.9" fill="#fff" stroke="#000" stroke-width="4.9"/>
<circle cx="1237.5" cy="355" r="15.9" fill="#fff" stroke="#000" stroke-width="4.9"/>
<circle cx="1260.5" cy="359.3" r="15.9" fill="#fff" stroke="#000" stroke-width="4.9"/>
<circle cx="1279" cy="335.2" r="15.9" fill="#fff" stroke="#000" stroke-width="4.9"/>
<circle cx="1297" cy="394.7" r="15.9" fill="#fff" stroke="#000" stroke-width="4.9"/>
<circle cx="1321" cy="392" r="15.9" fill="#fff" stroke="#000" stroke-width="4.9"/>
<circle cx="1381" cy="401" r="15.9" fill="#fff" stroke="#000" stroke-width="4.9"/>
<circle cx="1399" cy="363.5" r="15.9" fill="#fff" stroke="#000" stroke-width="4.9"/>
<circle cx="1417" cy="378.9" r="15.9" fill="#fff" stroke="#000" stroke-width="4.9"/>
<circle cx="1441" cy="373.3" r="15.9" fill="#fff" stroke="#000" stroke-width="4.9"/>
<circle cx="1459" cy="367.7" r="15.9" fill="#fff" stroke="#000" stroke-width="4.9"/>
<circle cx="1477" cy="382.3" r="15.9" fill="#fff" stroke="#000" stroke-width="4.9"/>
<circle cx="1501" cy="350.5" r="15.9" fill="#fff" stroke="#000" stroke-width="4.9"/>
<circle cx="1519" cy="355" r="15.9" fill="#fff" stroke="#000" stroke-width="4.9"/>
<circle cx="1537" cy="322.4" r="15.9" fill="#fff" stroke="#000" stroke-width="4.9"/>
<circle cx="1561" cy="321.8" r="15.9" fill="#fff" stroke="#000" stroke-width="4.9"/>
<circle cx="1579" cy="337.4" r="15.9" fill="#fff" stroke="#000" stroke-width="4.9"/>
<circle cx="1597" cy="321.8" r="15.9" fill="#fff" stroke="#000" stroke-width="4.9"/>
<circle cx="1621" cy="341.8" r="15.9" fill="#fff" stroke="#000" stroke-width="4.9"/>
<circle cx="1639" cy="355.4" r="15.9" fill="#fff" stroke="#000" stroke-width="4.9"/>
<circle cx="1657" cy="355.4" r="15.9" fill="#fff" stroke="#000" stroke-width="4.9"/>
<circle cx="1681" cy="345" r="15.9" fill="#fff" stroke="#000" stroke-width="4.9"/>
<circle cx="1699" cy="360.7" r="15.9" fill="#fff" stroke="#000" stroke-width="4.9"/>
<circle cx="1717.5" cy="341.8" r="15.9" fill="#fff" stroke="#000" stroke-width="4.9"/>
</g>
<path d="M325 74V1231" stroke="#000" stroke-width="5.4" fill="none"/>
<path d="M323 1228H1720.5" stroke="#333" stroke-width="6" fill="none"/>
<path d="M325 76.5H345.5M325 270H345.5M325 459H345.5M325 652H345.5M325 845.5H345.5M325 1034.5H345.5" stroke="#111" stroke-width="4.4" fill="none"/>
<path d="M523.5 1209V1228M720.5 1209V1228M919.5 1209V1228M1122.5 1209V1228M1321 1209V1228M1519 1209V1228M1717.8 1209V1228" stroke="#222" stroke-width="4.4" fill="none"/>
</g>
<g id="panel-b">
<text x="74.6" y="1673.6" font-family="'Liberation Sans', sans-serif" font-size="79" fill="#000" stroke="#000" stroke-width="1.4" textLength="42" lengthAdjust="spacingAndGlyphs">b</text>
<g font-family="'Liberation Sans', sans-serif" font-size="49.5" fill="#5a5a5a" text-anchor="end">
<text x="312.5" y="2904.4">0</text>
<text x="312.5" y="2710.9">5</text>
<text x="312.5" y="2517.4">10</text>
<text x="312.5" y="2323.9">15</text>
<text x="312.5" y="2130.4">20</text>
<text x="312.5" y="1936.9">25</text>
<text x="312.5" y="1743.4">30</text>
</g>
<text transform="translate(146 2791) rotate(-90)" font-family="'Liberation Sans', sans-serif" font-size="57" fill="#000" textLength="870" lengthAdjust="spacingAndGlyphs">Transepidermal water loss (g/m<tspan font-size="36" dy="-20">2</tspan><tspan dy="20">/hr)</tspan></text>
<g fill="#000">
<rect x="447.5" y="2722.6" width="73" height="168"/>
<rect x="688" y="2000.5" width="77" height="890.1"/>
<rect x="931" y="2607.3" width="74.5" height="283.3"/>
<rect x="1171.5" y="2123.2" width="78" height="767.4"/>
<rect x="1415.2" y="2363.5" width="74.5" height="527.1"/>
<rect x="1660" y="2119.3" width="74" height="771.3"/>
</g>
<g fill="none">
<path d="M484 2701.4V2743.9" stroke="#7a7a7a" stroke-width="5"/>
<path d="M475 2701.4H493M475 2743.9H493" stroke="#555" stroke-width="3.6"/>
<path d="M726.5 1956V2045" stroke="#7a7a7a" stroke-width="5"/>
<path d="M717.5 1956H735.5M717.5 2045H735.5" stroke="#555" stroke-width="3.6"/>
<path d="M968.3 2574V2640.6" stroke="#7a7a7a" stroke-width="5"/>
<path d="M959.3 2574H977.3M959.3 2640.6H977.3" stroke="#555" stroke-width="3.6"/>
<path d="M1210.5 2069.8V2176.6" stroke="#7a7a7a" stroke-width="5"/>
<path d="M1201.5 2069.8H1219.5M1201.5 2176.6H1219.5" stroke="#555" stroke-width="3.6"/>
<path d="M1452.5 2255.1V2471.9" stroke="#7a7a7a" stroke-width="5"/>
<path d="M1443.5 2255.1H1461.5M1443.5 2471.9H1461.5" stroke="#555" stroke-width="3.6"/>
<path d="M1697 2076.7V2161.9" stroke="#7a7a7a" stroke-width="5"/>
<path d="M1688 2076.7H1706M1688 2161.9H1706" stroke="#555" stroke-width="3.6"/>
</g>
<g font-family="'Liberation Sans', sans-serif" font-size="51" fill="#5a5a5a">
<text x="400" y="2977" textLength="172.5" lengthAdjust="spacingAndGlyphs">Normal</text>
<text x="642" y="2977" textLength="172.3" lengthAdjust="spacingAndGlyphs">Control</text>
<text x="928.7" y="2977" textLength="80.7" lengthAdjust="spacingAndGlyphs">LFP</text>
<text x="1148.6" y="2977" textLength="126.4" lengthAdjust="spacingAndGlyphs">R-LFP</text>
<text x="1378.7" y="2977" textLength="151.1" lengthAdjust="spacingAndGlyphs">LC-LFP</text>
<text x="1657.1" y="2977" textLength="78.8" lengthAdjust="spacingAndGlyphs">LFS</text>
</g>
<path d="M362 1727.5V2893" stroke="#000" stroke-width="5.2" fill="none"/>
<path d="M360 2890.8H1816" stroke="#333" stroke-width="4.4" fill="none"/>
<path d="M362 2697.1H381.5M362 2503.6H381.5M362 2310.1H381.5M362 2116.6H381.5M362 1923.1H381.5M362 1729.6H381.5" stroke="#111" stroke-width="4.4" fill="none"/>
<g stroke="#222" stroke-width="5" fill="none" stroke-linejoin="round">
<path d="M1011.6 1656.5V1632.9H1694V1656.5"/>
<path d="M740 1771V1747.6H1417.6V1771"/>
<path d="M721.6 1905.5V1882.2H928.6V1905.5"/>
<path d="M975.4 1905.5V1882.2H1183V1905.5"/>
<path d="M1228 1905.5V1878H1436V1905.5"/>
<path d="M1482 1905.5V1878H1690.5V1905.5"/>
</g>
<g font-family="'DejaVu Sans', sans-serif" font-size="68" fill="#000" stroke="#000" stroke-width="1.3" text-anchor="middle" letter-spacing="7.5">
<text x="1348.8" y="1619.9">***</text>
<text x="1065.8" y="1744.2">***</text>
<text x="826.2" y="1863.4">***</text>
<text x="1083.8" y="1863.4">***</text>
<text x="1341.8" y="1863.4">***</text>
<text x="1598.3" y="1863.4">***</text>
</g>
</g>
</g>
</svg>
</body>
</html>
